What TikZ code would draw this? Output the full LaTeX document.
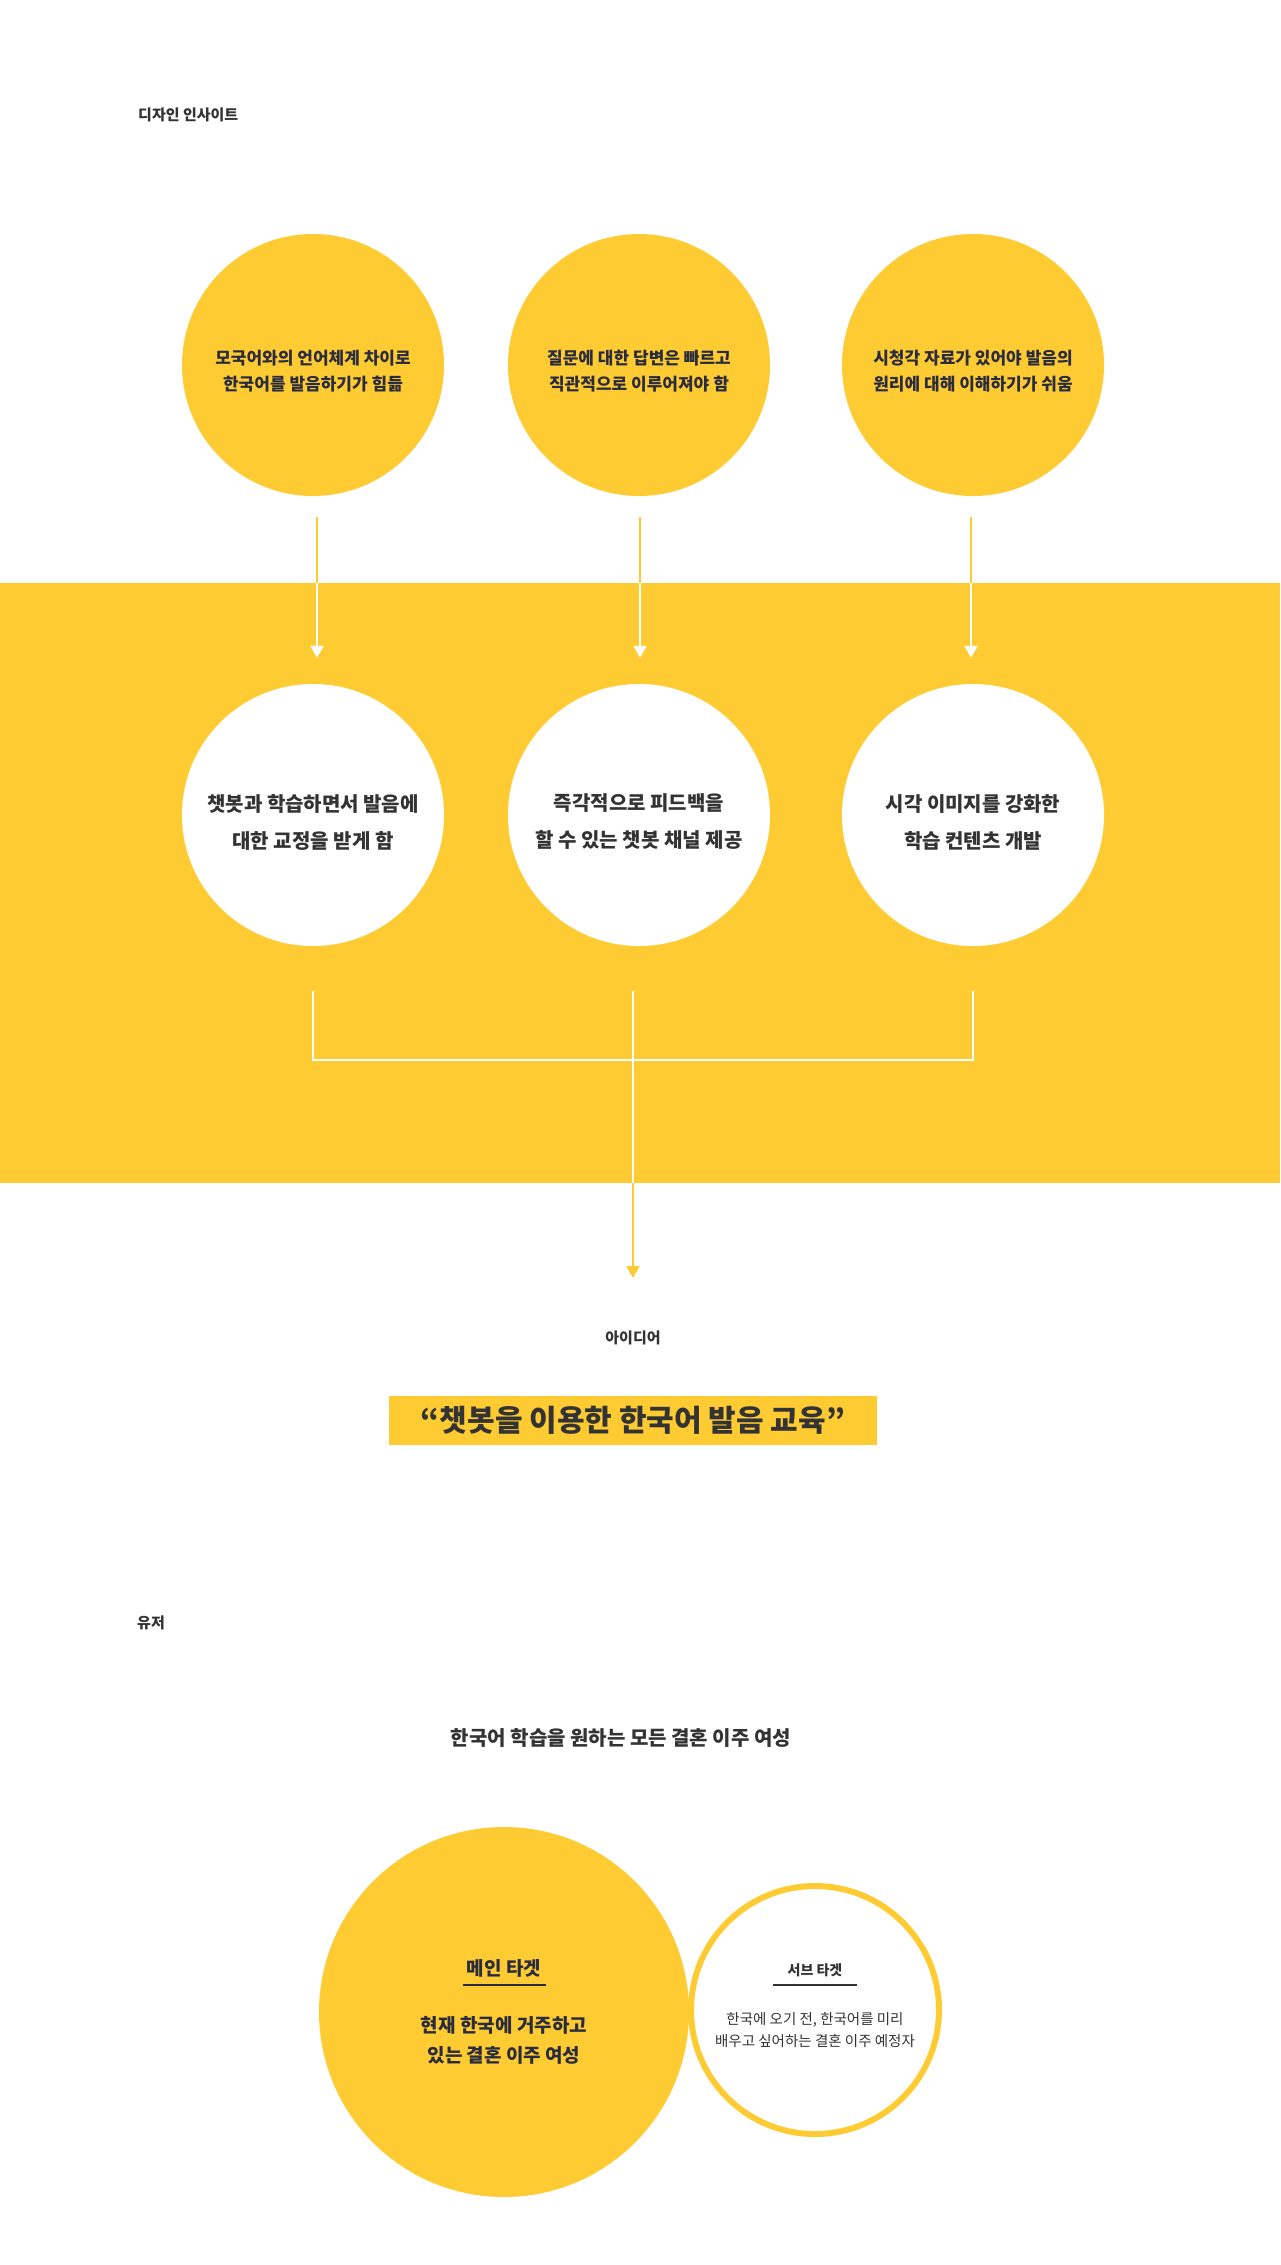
\documentclass[tikz,border=0pt]{standalone}
\usepackage{fontspec}
\setmainfont{Noto Sans CJK KR}
\usetikzlibrary{arrows.meta}
\definecolor{mainyellow}{RGB}{255,203,51}
\definecolor{navytext}{RGB}{42,44,62}
\definecolor{graytext}{RGB}{51,51,51}

\begin{document}
\begin{tikzpicture}[x=1pt,y=-1pt,
  band/.style = {rectangle, fill=mainyellow, minimum width=1280pt, minimum height=600pt, inner sep=0pt},
  need/.style = {circle, fill=mainyellow, minimum size=262pt, inner sep=0pt},
  plan/.style = {circle, fill=white, minimum size=262pt, inner sep=0pt},
  needtext/.style = {inner sep=0pt, align=center, text=navytext, font=\bfseries\fontsize{17}{26}\selectfont},
  plantext/.style = {inner sep=0pt, align=center, text=graytext, font=\bfseries\fontsize{20}{37}\selectfont},
  heading/.style = {inner sep=0pt, text=graytext, font=\bfseries\fontsize{15}{17}\selectfont},
  link/.style = {line width=2pt},
  flow/.style = {line width=2pt, -{Triangle[length=12pt,width=13pt]}}]
	\fill[white] (0,0) rectangle (1280,2265);
	\useasboundingbox (0,0) rectangle (1280,2265);

	% design insight
	\node[band] (band) at (640,883) {};
	\node[heading, anchor=west] (design) at (138,115) {디자인 인사이트};
	\begin{scope}
		\node[need] (n1) at (313,365) {};
		\node[need] (n2) at (639,365) {};
		\node[need] (n3) at (973,365) {};
		\node[plan] (p1) at (313,815) {};
		\node[plan] (p2) at (639,815) {};
		\node[plan] (p3) at (973,815) {};
	\end{scope}
	\node[needtext] (n1txt) at ([yshift=-6pt]n1.center) {모국어와의 언어체계 차이로\\한국어를 발음하기가 힘듦};
	\node[needtext] (n2txt) at ([yshift=-6pt]n2.center) {질문에 대한 답변은 빠르고\\직관적으로 이루어져야 함};
	\node[needtext] (n3txt) at ([yshift=-6pt]n3.center) {시청각 자료가 있어야 발음의\\원리에 대해 이해하기가 쉬움};
	\node[plantext] (p1txt) at ([yshift=-7pt]p1.center) {챗봇과 학습하면서 발음에\\대한 교정을 받게 함};
	\node[plantext] (p2txt) at ([yshift=-7pt]p2.center) {즉각적으로 피드백을\\할 수 있는 챗봇 채널 제공};
	\node[plantext] (p3txt) at ([yshift=-7pt]p3.center) {시각 이미지를 강화한\\학습 컨텐츠 개발};
	\foreach \i/\dx in {1/4,2/1,3/-2} {
		\draw[flow, white] ([xshift=\dx pt,yshift=-21pt]n\i.south) -- ([xshift=\dx pt,yshift=26pt]p\i.north);
		\draw[link, mainyellow] ([xshift=\dx pt,yshift=-21pt]n\i.south) -- ([xshift=\dx pt]n\i.south |- band.north);
	}

	% idea
	\node[heading] (ideahead) at (633,1338) {아이디어};
	\draw[link, white] ([yshift=-45pt]p1.south) |- ([yshift=-114pt]p3.south) -- ([yshift=-45pt]p3.south);
	\draw[link, white] ([yshift=-45pt]p2.south -| ideahead) -- (ideahead |- band.south);
	\draw[flow, mainyellow] (ideahead |- band.south) -- ([yshift=60pt]ideahead.center);
	\node[rectangle, fill=mainyellow, minimum width=488pt, minimum height=49pt, inner sep=0pt, text=graytext, font=\bfseries\fontsize{30}{30}\selectfont] (slogan) at (633,1420) {“챗봇을 이용한 한국어 발음 교육”};

	% user
	\node[heading, anchor=west] (user) at (137,1623) {유저};
	\node[inner sep=0pt, text=graytext, font=\bfseries\fontsize{20}{22}\selectfont] (target) at (621,1738) {한국어 학습을 원하는 모든 결혼 이주 여성};
	\node[circle, fill=mainyellow, minimum size=370pt] (main) at (504,2012) {};
	\node[circle, draw=mainyellow, line width=6pt, fill=white, minimum size=248pt] (sub) at (815,2010) {};
	\node[inner sep=0pt, text=navytext, font=\bfseries\fontsize{19}{22}\selectfont] (mainhead) at ([yshift=44pt]main.center) {메인 타겟};
	\draw[navytext, line width=2pt] ([xshift=-41.5pt,yshift=-17pt]mainhead.center) -- ([xshift=41.5pt,yshift=-17pt]mainhead.center);
	\node[inner sep=0pt, align=center, text=navytext, font=\bfseries\fontsize{19}{30}\selectfont] (maintext) at ([yshift=-28pt]main.center) {현재 한국에 거주하고\\있는 결혼 이주 여성};
	\node[inner sep=0pt, text=graytext, font=\bfseries\fontsize{14}{16}\selectfont] (subhead) at ([yshift=40pt]sub.center) {서브 타겟};
	\draw[graytext, line width=2pt] ([xshift=-42pt,yshift=-15pt]subhead.center) -- ([xshift=42pt,yshift=-15pt]subhead.center);
	\node[inner sep=0pt, align=center, text=graytext, font=\fontsize{14.5}{22}\selectfont] (subtext) at ([yshift=-20pt]sub.center) {한국에 오기 전, 한국어를 미리\\배우고 싶어하는 결혼 이주 예정자};
\end{tikzpicture}
\end{document}
